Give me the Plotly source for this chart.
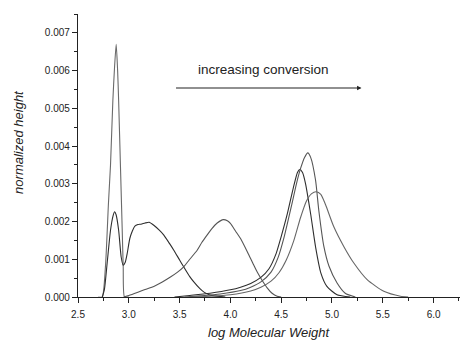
import plotly.graph_objects as go

# ---- data ----
# Curve A: sharp low-MW peak
a_x = [2.70, 2.738, 2.77, 2.80, 2.82, 2.843, 2.86, 2.876, 2.89, 2.90, 2.918, 2.935, 2.945, 2.958, 3.00]
a_y = [0.0, 0.0, 0.0008, 0.0025, 0.0035, 0.0052, 0.0061, 0.0067, 0.0060, 0.0052, 0.00345, 0.0018, 0.0008, 0.0, 0.0]

# Curve B: bimodal curve
b_x = [2.74, 2.76, 2.787, 2.82, 2.845, 2.86, 2.875, 2.90, 2.925, 2.945, 2.965, 2.984, 3.01, 3.035, 3.06,
       3.09, 3.12, 3.16, 3.20, 3.246, 3.30, 3.345, 3.40, 3.443, 3.50, 3.54, 3.60, 3.64, 3.70, 3.74,
       3.80, 3.84, 3.95]
b_y = [0.0, 0.0002, 0.0009, 0.00177, 0.00215, 0.00226, 0.00218, 0.00177, 0.00106, 0.00084, 0.00092,
       0.00115, 0.00155, 0.00175, 0.00188, 0.00192, 0.00193, 0.00196, 0.00198, 0.0019, 0.00177, 0.00164,
       0.00142, 0.00124, 0.00098, 0.0008, 0.00054, 0.0004, 0.00022, 0.00013, 0.00005, 0.00003, 0.0]

# Curve C: peak near 3.9
c_x = [2.95, 3.0, 3.083, 3.16, 3.246, 3.33, 3.41, 3.48, 3.54, 3.60, 3.673, 3.72, 3.77, 3.82, 3.87,
       3.93, 3.97, 4.0, 4.05, 4.10, 4.17, 4.22, 4.264, 4.31, 4.36, 4.41, 4.46, 4.50]
c_y = [0.0, 0.00004, 0.00012, 0.0002, 0.00028, 0.0004, 0.00053, 0.00066, 0.0008, 0.001, 0.00124,
       0.00145, 0.00164, 0.00182, 0.00196, 0.00205, 0.00202, 0.00195, 0.00175, 0.00155, 0.00118,
       0.0009, 0.00066, 0.00045, 0.00025, 0.0001, 0.00002, 0.0]

# Curve D: peak near 4.68
d_x = [3.45, 3.6, 3.8, 4.0, 4.1, 4.2, 4.3, 4.38, 4.45, 4.5, 4.56, 4.62, 4.66, 4.683, 4.71, 4.74,
       4.79, 4.84, 4.89, 4.95, 5.05, 5.18]
d_y = [0.0, 0.00004, 0.0001, 0.00019, 0.00026, 0.00036, 0.00052, 0.00075, 0.00115, 0.0016, 0.0022,
       0.0029, 0.0033, 0.00338, 0.0033, 0.0030, 0.0022, 0.0013, 0.00064, 0.00028, 0.00006, 0.0]

# Curve E: tallest peak near 4.76
e_x = [3.55, 3.7, 3.9, 4.1, 4.2, 4.3, 4.4, 4.47, 4.53, 4.6, 4.65, 4.69, 4.73, 4.762, 4.79, 4.838,
       4.87, 4.92, 4.97, 5.05, 5.13, 5.23]
e_y = [0.0, 0.00003, 0.00008, 0.00017, 0.00026, 0.0004, 0.00066, 0.00105, 0.0016, 0.0024, 0.003,
       0.0034, 0.0037, 0.00382, 0.0037, 0.0031, 0.0023, 0.00134, 0.00082, 0.00037, 0.0001, 0.0]

# Curve F: broad peak near 4.85
f_x = [3.6, 3.8, 4.0, 4.2, 4.3, 4.4, 4.48, 4.55, 4.625, 4.69, 4.75, 4.80, 4.845, 4.89, 4.936,
       5.018, 5.116, 5.215, 5.346, 5.51, 5.674, 5.75]
f_y = [0.0, 0.00002, 0.00006, 0.00016, 0.00026, 0.00042, 0.00065, 0.00098, 0.0015, 0.0021, 0.00255,
       0.00274, 0.00279, 0.00272, 0.00245, 0.00186, 0.00134, 0.0009, 0.00046, 0.00015, 0.00002, 0.0]

series = [
    (a_x, a_y, "#6a6a6a"),
    (b_x, b_y, "#2e2e2e"),
    (c_x, c_y, "#555555"),
    (d_x, d_y, "#2e2e2e"),
    (e_x, e_y, "#555555"),
    (f_x, f_y, "#666666"),
]

x_ticks = [2.5, 3.0, 3.5, 4.0, 4.5, 5.0, 5.5, 6.0]
y_ticks = [0.000, 0.001, 0.002, 0.003, 0.004, 0.005, 0.006, 0.007]

annotation_text = "increasing conversion"
x_title = "log Molecular Weight"
y_title = "normalized height"

FONT = "Liberation Sans, Arial, sans-serif"

fig = go.Figure()
for xs, ys, col in series:
    fig.add_trace(go.Scatter(x=xs, y=ys, mode="lines",
                             line=dict(color=col, width=1.1, shape="spline", smoothing=0.6),
                             showlegend=False, hoverinfo="skip"))

fig.add_annotation(x=4.33, y=0.00602, text=annotation_text, showarrow=False,
                   font=dict(family=FONT, size=13.5, color="#222"))
fig.add_annotation(x=5.29, y=0.00554, ax=3.45, ay=0.00554, xref="x", yref="y",
                   axref="x", ayref="y", text="", showarrow=True,
                   arrowhead=2, arrowsize=0.8, arrowwidth=1.1, arrowcolor="#222")

# axis titles placed as paper annotations
fig.add_annotation(x=-0.1545, y=0.548, xref="paper", yref="paper", text=y_title, textangle=-90,
                   xanchor="center", yanchor="middle",
                   showarrow=False, font=dict(family=FONT, size=13, style="italic", color="#222"))
fig.add_annotation(x=0.5, y=-0.124, xref="paper", yref="paper", text=x_title,
                   xanchor="center", yanchor="middle",
                   showarrow=False, font=dict(family=FONT, size=13, style="italic", color="#222"))

fig.update_layout(
    width=460, height=342,
    margin=dict(l=78, r=0, t=14, b=45, autoexpand=False),
    paper_bgcolor="white", plot_bgcolor="white",
    font=dict(family=FONT, size=10, color="#222"),
    xaxis=dict(range=[2.5, 6.26], tickvals=x_ticks, ticktext=[f"{v:.1f}" for v in x_ticks],
               automargin=False, ticklabelstandoff=3,
               showgrid=False, zeroline=False, showline=True, linecolor="#222", linewidth=1.2,
               ticks="outside", ticklen=5, tickwidth=1, tickcolor="#222",
               minor=dict(dtick=0.25, tick0=2.5, ticks="outside", ticklen=3, tickcolor="#222")),
    yaxis=dict(range=[0, 0.0075], tickvals=y_ticks, ticktext=[f"{v:.3f}" for v in y_ticks],
               automargin=False,
               showgrid=False, zeroline=False, showline=True, linecolor="#222", linewidth=1.2,
               ticks="outside", ticklen=5, tickwidth=1, tickcolor="#222",
               minor=dict(dtick=0.0005, tick0=0, ticks="outside", ticklen=3, tickcolor="#222")),
)

fig.write_html("out.html", config={"displayModeBar": False},
               post_script="document.body.style.margin='0';")
